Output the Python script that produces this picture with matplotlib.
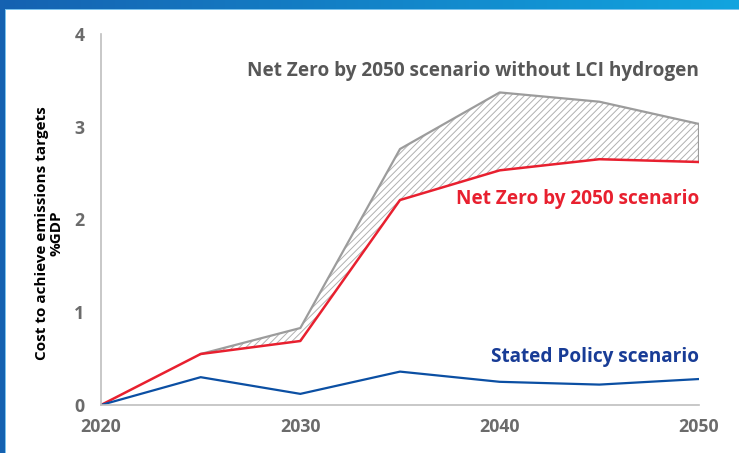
import numpy as np
from matplotlib import pyplot as plt
from matplotlib.patches import Rectangle

# Scenario data, cost as % of GDP
years = [2020, 2025, 2030, 2035, 2040, 2045, 2050]
stated_policy = [0.0, 0.30, 0.12, 0.36, 0.25, 0.22, 0.28]
net_zero = [0.0, 0.55, 0.69, 2.21, 2.53, 2.65, 2.62]
net_zero_no_lci = [0.0, 0.55, 0.83, 2.76, 3.37, 3.27, 3.03]

x_ticks = [2020, 2030, 2040, 2050]
y_ticks = [0, 1, 2, 3, 4]

RED = '#e8202f'
BLUE = '#0b4fa3'
BLUE_TEXT = '#183c96'
GREY = '#9c9c9c'
TICK_GREY = '#6b6b6b'

plt.rcParams['font.family'] = ['Open Sans', 'DejaVu Sans']
plt.rcParams['hatch.linewidth'] = 0.7

W, H = 739, 453
fig = plt.figure(figsize=(W / 100, H / 100), dpi=100)

# Blue frame along the top and left edges
bg = fig.add_axes([0, 0, 1, 1], zorder=-10)
gx = np.linspace(0, 1, 200)
t = np.tile(gx, (60, 1))
dark = np.array([0x15, 0x62, 0xb1]) / 255
light = np.array([0x12, 0xa4, 0xdf]) / 255
grad = dark[None, None, :] * (1 - t[..., None]) + light[None, None, :] * t[..., None]
bg.imshow(grad, extent=[0, 1, 0, 1], aspect='auto', origin='upper')
bg.add_patch(Rectangle((5 / W, 0), 1, (H - 9) / H, facecolor='#7cc4ee', edgecolor='none'))
bg.add_patch(Rectangle((6 / W, 0), 1, (H - 10) / H, facecolor='white', edgecolor='none'))
bg.set_xlim(0, 1)
bg.set_ylim(0, 1)
bg.axis('off')

ax = fig.add_axes([101 / W, (H - 405) / H, 598 / W, 371 / H])

# Hatched gap between the two net zero paths
ax.fill_between(years, net_zero, net_zero_no_lci, facecolor='none',
                edgecolor='#b0b0b0', hatch='/////', linewidth=0)
ax.plot(years[1:], net_zero_no_lci[1:], color=GREY, lw=1.6)
ax.plot([years[-1], years[-1]], [net_zero[-1], net_zero_no_lci[-1]], color=GREY, lw=1.6)
ax.plot(years, net_zero, color=RED, lw=1.8)
ax.plot(years, stated_policy, color=BLUE, lw=1.6)

ax.text(2050, 3.6, 'Net Zero by 2050 scenario without LCI hydrogen', color='#575757',
        fontsize=13.7, fontweight='bold', ha='right', va='center')
ax.text(2050, 2.22, 'Net Zero by 2050 scenario', color=RED,
        fontsize=13.7, fontweight='bold', ha='right', va='center')
ax.text(2050, 0.52, 'Stated Policy scenario', color=BLUE_TEXT,
        fontsize=13.7, fontweight='bold', ha='right', va='center')

ax.set_xlim(2020, 2050)
ax.set_ylim(0, 4)
ax.set_xticks(x_ticks)
ax.set_yticks(y_ticks)
ax.tick_params(length=0, labelsize=12.8, labelcolor=TICK_GREY)
ax.tick_params(axis='x', pad=9)
ax.tick_params(axis='y', pad=12)
for lab in ax.get_xticklabels() + ax.get_yticklabels():
    lab.set_fontweight('bold')

for side in ['top', 'right']:
    ax.spines[side].set_visible(False)
for side in ['left', 'bottom']:
    ax.spines[side].set_color('#bfbfbf')
    ax.spines[side].set_linewidth(1.2)

ax.set_ylabel('Cost to achieve emissions targets\n%GDP', fontsize=11,
              fontweight='bold', color='black', linespacing=1.05)
ax.yaxis.set_label_coords(-0.063, 0.464)

fig.savefig('out.png', dpi=100)
